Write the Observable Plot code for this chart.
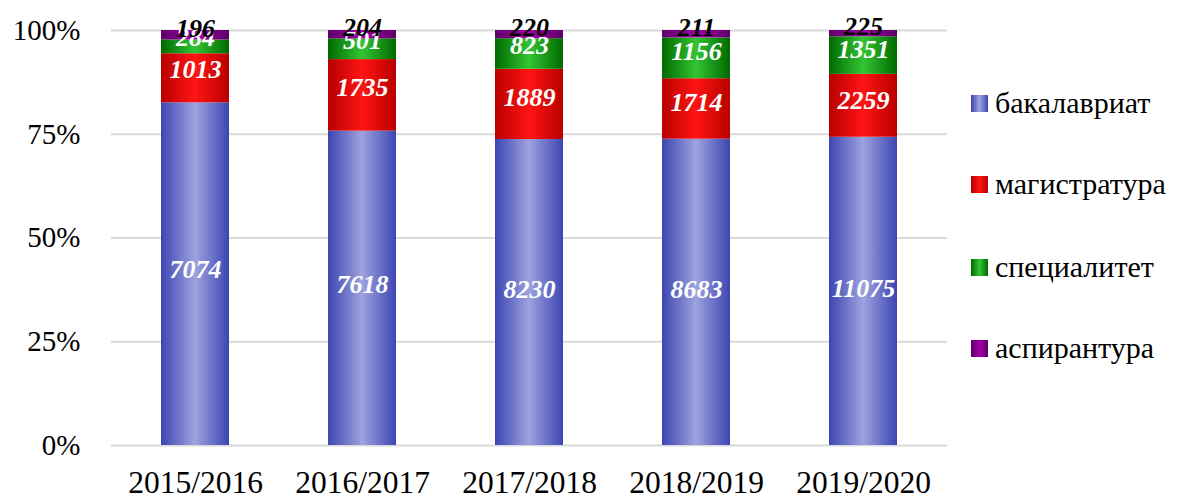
<!DOCTYPE html>
<html>
<head>
<meta charset="utf-8">
<script src="https://cdn.jsdelivr.net/npm/d3@7"></script>
<script src="https://cdn.jsdelivr.net/npm/@observablehq/plot@0.6"></script>
<style>
  html, body { margin: 0; padding: 0; background: #fff; }
  #wrap { position: relative; width: 1177px; height: 495px; font-family: 'Liberation Serif', 'Times New Roman', Times, serif; }
  #legend { position: absolute; left: 971px; top: 0; }
  .li { position: absolute; left: 0; display: flex; align-items: center; white-space: nowrap; font-size: 30px; color: #000; font-family: 'Liberation Serif', 'Times New Roman', Times, serif; }
  .sw { width: 17px; height: 17px; margin-right: 7px; }
  svg text { font-family: 'Liberation Serif', 'Times New Roman', Times, serif; }
</style>
</head>
<body>
<div id="wrap"><div id="legend"></div></div>
<script>
const years = ["2015/2016", "2016/2017", "2017/2018", "2018/2019", "2019/2020"];
const series = ["бакалавриат", "магистратура", "специалитет", "аспирантура"];
const bakalavriat  = [7074, 7618, 8230, 8683, 11075];
const magistratura = [1013, 1735, 1889, 1714, 2259];
const specialitet  = [284, 501, 823, 1156, 1351];
const aspirantura  = [196, 204, 220, 211, 225];
const yTicks = [0, 0.25, 0.5, 0.75, 1];

const gradients = [
  {id: "g0", edge: "#3c46b2", mid: "#9ea2de"},
  {id: "g1", edge: "#b80000", mid: "#ff1414"},
  {id: "g2", edge: "#006a00", mid: "#33c433"},
  {id: "g3", edge: "#5c0068", mid: "#a400a8"}
];

const valuesBySeries = [bakalavriat, magistratura, specialitet, aspirantura];
const data = [];
years.forEach((yr, i) => {
  series.forEach((s, j) => data.push({year: yr, series: s, value: valuesBySeries[j][i]}));
});

const font = "'Liberation Serif', 'Times New Roman', Times, serif";

const stackOpts = (extra) => Plot.stackY({x: "year", y: "value", z: "series", offset: "normalize", order: series, ...extra});

const chart = Plot.plot({
  width: 1177,
  height: 495,
  marginLeft: 111,
  marginRight: 230,
  marginTop: 30,
  marginBottom: 50,
  style: {fontFamily: font, background: "transparent"},
  x: {domain: years, paddingInner: 0.59, paddingOuter: 0.295, label: null, tickSize: 0, tickPadding: 25},
  y: {domain: [0, 1], ticks: yTicks, tickFormat: d3.format(".0%"), label: null, tickSize: 0, tickPadding: 31},
  color: {domain: series, range: gradients.map(g => `url(#${g.id})`)},
  marks: [
    Plot.ruleY(yTicks, {stroke: "#d9d9d9", strokeWidth: 2}),
    Plot.barY(data, stackOpts({fill: "series"})),
    Plot.text(data.filter(d => d.series !== "аспирантура"), stackOpts({
      text: d => String(d.value), fill: "white", fontSize: 26, fontWeight: "bold", fontStyle: "italic", fontFamily: font
    })),
    Plot.text(data, stackOpts({
      text: d => d.series === "аспирантура" ? String(d.value) : "", fill: "black", fontSize: 26, fontWeight: "bold", fontStyle: "italic", fontFamily: font, dy: -7
    }))
  ]
});

// gradient definitions
const svg = d3.select(chart);
const defs = svg.insert("defs", ":first-child");
gradients.forEach(g => {
  const lg = defs.append("linearGradient").attr("id", g.id).attr("x1", "0").attr("x2", "1").attr("y1", "0").attr("y2", "0");
  lg.append("stop").attr("offset", "0%").attr("stop-color", g.edge);
  lg.append("stop").attr("offset", "50%").attr("stop-color", g.mid);
  lg.append("stop").attr("offset", "100%").attr("stop-color", g.edge);
});
svg.select("g[aria-label='x-axis tick label']").style("font-size", "31.5px");
svg.select("g[aria-label='y-axis tick label']").style("font-size", "29px");

document.getElementById("wrap").prepend(chart);
chart.style.position = "absolute";
chart.style.left = "0";
chart.style.top = "0";

const legendTops = [103, 184, 267, 348];
const legend = document.getElementById("legend");
series.forEach((s, j) => {
  const item = document.createElement("div");
  item.className = "li";
  item.style.top = (legendTops[j] - 18) + "px";
  item.style.height = "36px";
  const g = gradients[j];
  item.innerHTML = `<div class="sw" style="background: linear-gradient(to right, ${g.edge}, ${g.mid}, ${g.edge});"></div><span>${s}</span>`;
  legend.appendChild(item);
});
</script>
</body>
</html>
